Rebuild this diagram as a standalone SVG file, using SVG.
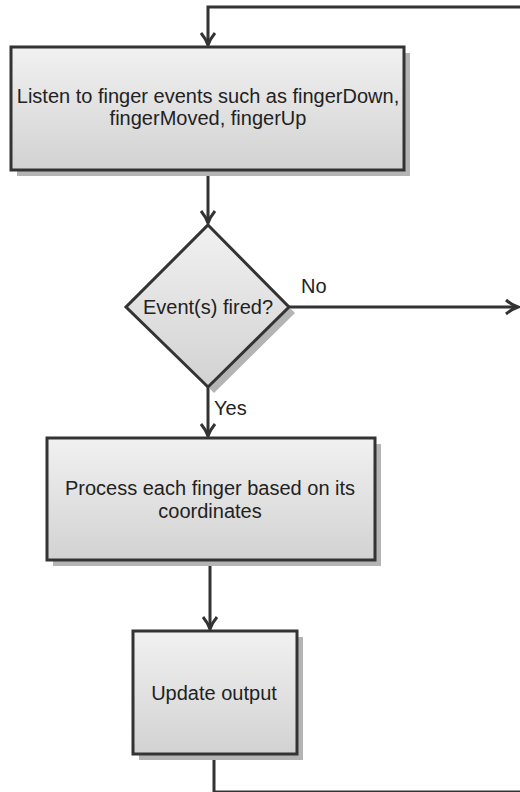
<svg xmlns="http://www.w3.org/2000/svg" width="520" height="792" viewBox="0 0 520 792">
<defs>
<linearGradient id="g" x1="0" y1="0" x2="0" y2="1">
<stop offset="0" stop-color="#f1f1f1"/>
<stop offset="1" stop-color="#d2d2d2"/>
</linearGradient>
<marker id="arr" markerUnits="userSpaceOnUse" markerWidth="20" markerHeight="20" viewBox="-14 -10 16 20" refX="0" refY="0" orient="auto">
<path d="M-12,-7 Q-6,-2 0,0 Q-6,2 -12,7" fill="none" stroke="#333" stroke-width="3"/>
</marker>
</defs>
<style>
.shape{fill:url(#g);stroke:#333;stroke-width:3}
.shadow{fill:#b4b4b4}
.line{fill:none;stroke:#333;stroke-width:3}
text{font-family:"Liberation Sans",Arial,sans-serif;font-size:20px;fill:#222;text-anchor:middle}
.lbl{text-anchor:start}
</style>
<g id="connectors">
<path class="line" d="M520,7 H208 V45" marker-end="url(#arr)"/>
<path class="line" d="M208,170 V223" marker-end="url(#arr)"/>
<path class="line" d="M289,307 H518" marker-end="url(#arr)"/>
<path class="line" d="M208,387 V436" marker-end="url(#arr)"/>
<path class="line" d="M210,560 V629" marker-end="url(#arr)"/>
<path class="line" d="M214,754 V792 H520"/>
<text class="lbl" x="301" y="293">No</text>
<text class="lbl" x="214" y="415">Yes</text>
</g>
<g id="listen">
<rect class="shadow" x="17" y="53" width="393" height="123"/>
<rect class="shape" x="11" y="47" width="393" height="123"/>
<text x="208" y="103">Listen to finger events such as fingerDown,</text>
<text x="208" y="125">fingerMoved, fingerUp</text>
</g>
<g id="decision">
<polygon class="shadow" points="295,313 214,393 208,387 289,307"/>
<polygon class="shape" points="208,225 289,307 208,387 126,307"/>
<text x="208" y="314">Event(s) fired?</text>
</g>
<g id="process">
<rect class="shadow" x="53" y="444" width="328" height="122"/>
<rect class="shape" x="47" y="438" width="328" height="122"/>
<text x="210" y="495">Process each finger based on its</text>
<text x="210" y="518">coordinates</text>
</g>
<g id="update">
<rect class="shadow" x="139" y="637" width="164" height="123"/>
<rect class="shape" x="133" y="631" width="164" height="123"/>
<text x="214" y="700">Update output</text>
</g>
</svg>
